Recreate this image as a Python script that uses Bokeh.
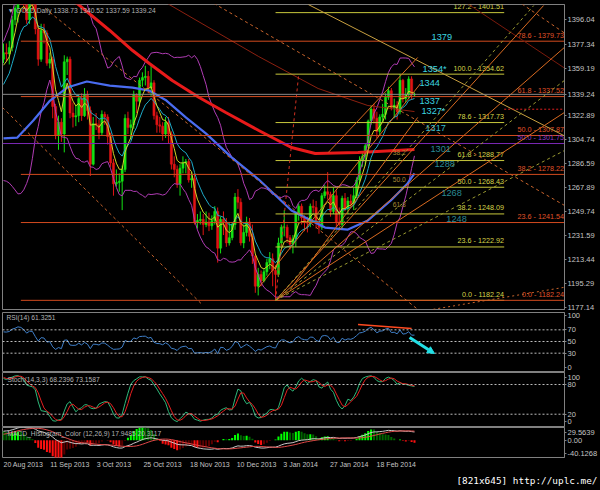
import numpy as np
import pandas as pd
from bokeh.plotting import figure
from bokeh.layouts import column
from bokeh.models import (Range1d, FixedTicker, Span, Arrow, NormalHead,
                          ColumnDataSource, GlobalInlineStyleSheet)
from bokeh.core.properties import value
from bokeh.embed import file_html
from bokeh.resources import INLINE

# ------------------------------------------------------------------ data
date_labels = ["20 Aug 2013", "11 Sep 2013", "3 Oct 2013", "25 Oct 2013", "18 Nov 2013",
               "10 Dec 2013", "3 Jan 2014", "27 Jan 2014", "18 Feb 2014"]
date_label_bars = [0, 16, 32, 48, 64, 80, 96, 112, 128]

# bars before the first visible one (only used to seed the indicators)
warm_close = [1251, 1223, 1235, 1246, 1262, 1283, 1278, 1283, 1291, 1277, 1283, 1295, 1335, 1346, 1318,
              1334, 1322, 1328, 1324, 1313, 1311, 1310, 1302, 1282, 1285, 1311, 1313, 1334, 1320, 1335,
              1373, 1377, 1366]
warm_high = [1256, 1262, 1240, 1253, 1267, 1292, 1287, 1297, 1294, 1292, 1294, 1299, 1338, 1349, 1348,
             1336, 1336, 1333, 1332, 1330, 1330, 1318, 1316, 1303, 1294, 1313, 1322, 1338, 1340, 1338,
             1375, 1380, 1375]
warm_low = [1236, 1211, 1207, 1231, 1239, 1255, 1271, 1270, 1278, 1275, 1270, 1277, 1292, 1330, 1313,
            1313, 1316, 1315, 1316, 1300, 1300, 1288, 1299, 1275, 1270, 1282, 1305, 1310, 1315, 1316,
            1333, 1365, 1362]

close = [1371, 1370, 1375, 1396, 1405, 1420, 1418, 1410, 1396, 1412,
         1411, 1389, 1366, 1388, 1386, 1363, 1366, 1330, 1308, 1318,
         1309, 1364, 1366, 1325, 1322, 1323, 1336, 1323, 1339, 1327,
         1286, 1317, 1316, 1310, 1324, 1322, 1307, 1287, 1271, 1272,
         1273, 1282, 1321, 1314, 1316, 1339, 1334, 1350, 1352, 1353,
         1344, 1348, 1323, 1316, 1315, 1309, 1318, 1309, 1286, 1282,
         1271, 1283, 1287, 1288, 1274, 1275, 1242, 1243, 1244, 1240,
         1242, 1239, 1243, 1250, 1222, 1244, 1242, 1226, 1230, 1240,
         1261, 1257, 1226, 1234, 1242, 1231, 1216, 1193, 1202, 1197,
         1204, 1211, 1214, 1205, 1202, 1226, 1238, 1238, 1230, 1225,
         1229, 1248, 1254, 1245, 1242, 1241, 1254, 1253, 1242, 1238,
         1262, 1265, 1263, 1250, 1262, 1242, 1240, 1260, 1252, 1258,
         1256, 1262, 1274, 1289, 1292, 1300, 1319, 1328, 1321, 1311,
         1322, 1324, 1337, 1342, 1329, 1331, 1326, 1350, 1336, 1339,
         1351, 1338.73, 1339.24]
high = [1378, 1378, 1380, 1399, 1407, 1424, 1434, 1420, 1412, 1415,
        1420, 1414, 1392, 1393, 1393, 1388, 1371, 1368, 1332, 1323,
        1321, 1369, 1368, 1368, 1333, 1331, 1339, 1340, 1344, 1342,
        1330, 1322, 1325, 1320, 1327, 1326, 1324, 1310, 1290, 1282,
        1279, 1285, 1324, 1326, 1320, 1342, 1340, 1352, 1356, 1361,
        1357, 1361, 1350, 1326, 1322, 1318, 1322, 1322, 1311, 1292,
        1285, 1286, 1292, 1290, 1290, 1280, 1279, 1248, 1250, 1248,
        1250, 1249, 1247, 1254, 1253, 1246, 1250, 1245, 1242, 1242,
        1264, 1267, 1260, 1240, 1246, 1245, 1240, 1217, 1207, 1205,
        1206, 1214, 1219, 1218, 1209, 1230, 1240, 1251, 1240, 1232,
        1232, 1250, 1256, 1256, 1247, 1246, 1256, 1259, 1258, 1244,
        1264, 1270, 1280, 1265, 1268, 1266, 1253, 1262, 1264, 1261,
        1263, 1268, 1276, 1292, 1296, 1302, 1320, 1331, 1332, 1326,
        1324, 1332, 1340, 1345, 1344, 1336, 1334, 1354.62, 1351, 1344,
        1353, 1353, 1340.52]
low = [1363, 1364, 1362, 1372, 1392, 1394, 1410, 1402, 1393, 1393,
       1403, 1385, 1361, 1364, 1378, 1361, 1359, 1321, 1305, 1297,
       1303, 1295, 1354, 1321, 1314, 1315, 1318, 1319, 1322, 1320,
       1277, 1285, 1312, 1305, 1308, 1316, 1301, 1284, 1262, 1269,
       1265, 1251, 1280, 1309, 1305, 1313, 1325, 1330, 1345, 1346,
       1340, 1338, 1320, 1310, 1310, 1304, 1306, 1302, 1282, 1276,
       1268, 1262, 1279, 1279, 1272, 1268, 1240, 1237, 1240, 1232,
       1238, 1235, 1236, 1240, 1211, 1218, 1232, 1223, 1224, 1228,
       1236, 1252, 1224, 1222, 1231, 1227, 1210, 1188, 1186, 1193,
       1196, 1201, 1206, 1193, 1182.24, 1200, 1222, 1231, 1226, 1221,
       1218, 1223, 1243, 1240, 1235, 1234, 1238, 1249, 1237, 1233,
       1236, 1260, 1259, 1246, 1248, 1238, 1239, 1236, 1250, 1248,
       1253, 1251, 1260, 1271, 1284, 1285, 1298, 1316, 1317, 1306,
       1308, 1318, 1320, 1335, 1327, 1321, 1320, 1324, 1333, 1333,
       1336, 1335, 1337.59]

header_text = "\u25bc GOLD,Daily  1338.73 1340.52 1337.59 1339.24"
last_price = 1339.24
price_ticks = [1396.04, 1377.34, 1359.19, 1339.24, 1322.89, 1304.74, 1286.59, 1267.89,
               1249.74, 1231.59, 1213.44, 1195.29, 1177.14]

# long moving averages (bar index, price)
ma200_bar = [20, 25.4, 36.7, 44.6, 50.4, 58.3, 67.6, 76.8, 88.2, 99.5, 107.7, 122.5, 142]
ma200_val = [1413, 1408.5, 1387.9, 1372.6, 1362.7, 1349.8, 1336.8, 1325.4, 1311.7, 1298.7,
             1294.2, 1294.9, 1297.2]
ma50_bar = [0, 4.8, 10.3, 16.1, 22, 28.8, 36.7, 44.6, 50.4, 56.3, 63.1, 70, 78.9, 88.2,
            99.5, 111.1, 119, 125.9, 133.8, 139.6, 142]
ma50_val = [1305.6, 1306.3, 1319.3, 1334.5, 1344.4, 1349.0, 1345.9, 1344.4, 1342.1, 1334.5,
            1321.5, 1309.3, 1291.0, 1274.3, 1250.7, 1237.7, 1236.2, 1243.1, 1258.3, 1271.3, 1279]
ma100_bar = [50, 56.6, 88.2, 108.7, 125.9, 142]
ma100_val = [1414, 1408.5, 1368, 1343.7, 1330.7, 1326.1]

# Fibonacci objects
fib_ratios = [0.0, 23.6, 38.2, 50.0, 61.8, 78.6, 100.0, 127.2]
fibA_low, fibA_high, fibA_bar0, fibA_bar1, fibA_end = 1182.24, 1354.62, 94, 102, 173
fibB_ratios = [0.0, 23.6, 38.2, 50.0, 61.8, 78.6]
fibB_low, fibB_high, fibB_bar0 = 1182.24, 1433.50, 6
fibC_level, fibC_ratio = 1301.75, 50.0

# hand-drawn support / resistance notes
note_text = ["1379", "1354*", "1344", "1337", "1327*", "1317", "1301", "1288", "1268", "1248"]
note_bar = [147.9, 144.8, 143.7, 143.7, 144.4, 145.8, 147.5, 148.9, 151.3, 153.0]
note_price = [1383.3, 1358.9, 1348.2, 1334.5, 1326.8, 1313.9, 1297.9, 1285.8, 1264.4, 1244.6]
note_color = ["#3cd6e0"] * 5 + ["#34bccc"] + ["#2a8a94"] * 4
fan_text = ["38.2", "50.0", "61.8"]
fan_bar = [134.5, 134.5, 134.5]
fan_price = [1294.9, 1274.3, 1255.3]

# trend lines: (bar0, price0, bar1, price1, colour, dash, width)
trend_lines = [
    (105.3, 1407.7, 193.8, 1307.6, "#c8a040", "solid", 1),
    (160.2, 1408.5, 193.8, 1359.3, "#7a1a0c", "solid", 1),
    (-0.4, 1329.3, 68.6, 1179.1, "#c8642c", "3 3", 1),
    (14.4, 1404.6, 143.2, 1175.2, "#c8642c", "3 3", 1),
    (72.7, 1408.5, 193.8, 1254.6, "#c8642c", "3 3", 1),
    (177.4, 1410.7, 193.8, 1386.0, "#c8642c", "3 3", 1),
    (148.5, 1175.4, 193.8, 1192.2, "#c8642c", "2 3", 1),
    (94, 1182.24, 102, 1354.62, "#d03020", "3 3", 1),
    (94, 1182.24, 186.6, 1406.9, "#d86a20", "solid", 1),
    (94, 1182.24, 193.8, 1375.0, "#d86a20", "solid", 1),
    (94, 1182.24, 193.8, 1325.4, "#d86a20", "solid", 1),
    (94, 1182.24, 183.2, 1406.9, "#9a9a30", "3 3", 1),
    (94, 1182.24, 193.8, 1349.8, "#9a9a30", "3 3", 1),
    (94, 1182.24, 193.8, 1296.4, "#9a9a30", "3 3", 1),
    (88.2, 1192.0, 144.1, 1347.5, "#d86a20", "solid", 1),
    (99.5, 1192.0, 143.1, 1321.6, "#d86a20", "solid", 1),
    (112.2, 1294.9, 143.1, 1367.3, "#d86a20", "solid", 1),
    (173, 1327.9, 193.8, 1327.9, "#e02020", "2 2", 1),
]
rsi_trend = (122.5, 79.1, 141.0, 72.3)
rsi_arrow = (140.3, 56.9, 148.9, 29.5)

rsi_title = "RSI(14) 61.3251"
sto_title = "Stoch(14,3,3) 68.2396 73.1587"
macd_title = "MACD_Histogram_Color (12,26,9) 17.9485 20.3117"
macd_top, macd_bot = 29.5639, -40.1268
watermark = "[821x645] http://uplc.me/"

# ------------------------------------------------------------------ indicators
nw = len(warm_close)
C = np.array(warm_close + close, float)
H = np.array(warm_high + high, float)
L = np.array(warm_low + low, float)
Cs = pd.Series(C)


def ema(x, n):
    a = 2.0 / (n + 1)
    out = np.empty(len(x))
    out[0] = x[0]
    for i in range(1, len(x)):
        out[i] = a * x[i] + (1 - a) * out[i - 1]
    return out


ema_fast = ema(C, 5)
ema_mid = ema(C, 10)
bb_mid = Cs.rolling(20).mean()
bb_sd = Cs.rolling(20).std(ddof=0)
bb_up = (bb_mid + 2 * bb_sd).values
bb_dn = (bb_mid - 2 * bb_sd).values

d = np.diff(C, prepend=C[0])
gain = np.clip(d, 0, None)
loss = np.clip(-d, 0, None)
ag = np.full(len(C), np.nan)
al = np.full(len(C), np.nan)
ag[14] = gain[1:15].mean()
al[14] = loss[1:15].mean()
for i in range(15, len(C)):
    ag[i] = (ag[i - 1] * 13 + gain[i]) / 14
    al[i] = (al[i - 1] * 13 + loss[i]) / 14
rsi = 100 - 100 / (1 + ag / al)

hh = pd.Series(H).rolling(14).max()
ll = pd.Series(L).rolling(14).min()
sto_k = (100 * (Cs - ll).rolling(3).sum() / (hh - ll).rolling(3).sum())
sto_d = sto_k.rolling(3).mean()

macd = ema(C, 12) - ema(C, 26)
macd_sig = pd.Series(macd).rolling(9).mean().values
hist = 3 * (macd - macd_sig)

n = len(close)
idx = np.arange(n)
o = np.r_[warm_close[-1], close[:-1]]
c = np.array(close, float)
GREEN, RED = "#14e214", "#e21414"
cols = [GREEN if cc >= oo else RED for oo, cc in zip(o, c)]

hv = hist[nw:]
hp = hist[nw - 1:-1]
hcols = []
for a, b in zip(hv, hp):
    if a >= 0:
        hcols.append("#00ff00" if a >= b else "#006400")
    else:
        hcols.append("#ff1010" if a < b else "#5a0000")

# ------------------------------------------------------------------ layout
W = 600
BL, BR = 2, 32
XR = Range1d(-0.343, 193.83)
FONT = "Liberation Sans"
AXC = "#c4c4c4"
GRID = "#808080"
FS = "7.5px"
TS = "6.7px"
FIBS = "7.2px"


def pane(h, y0, y1, bt, bb):
    f = figure(width=W, height=h, x_range=XR, y_range=Range1d(y0, y1), title=None,
               output_backend="svg", toolbar_location=None, x_axis_location=None,
               y_axis_location="right", min_border_left=BL, min_border_right=BR,
               min_border_top=bt, min_border_bottom=bb, background_fill_color="black",
               border_fill_color="black", outline_line_color=GRID)
    f.grid.visible = False
    ax = f.yaxis[0]
    ax.axis_line_color = GRID
    ax.major_tick_line_color = GRID
    ax.minor_tick_line_color = None
    ax.major_tick_out = 2
    ax.major_tick_in = 0
    ax.major_label_standoff = 1
    ax.major_label_text_font = FONT
    ax.major_label_text_font_size = FS
    ax.major_label_text_color = AXC
    return f


def txt(f, x, y, t, color, size=FS, align="left", base="middle", font=FONT):
    f.text(x=x, y=y, text=t, text_color=color, text_font=value(font), text_font_size=size,
           text_align=align, text_baseline=base)


# main pane ---------------------------------------------------------
PY0, PY1 = 1175.26, 1407.70
PSTEP = 0.7621
main = pane(311, PY0, PY1, 4, 2)
main.yaxis[0].ticker = FixedTicker(ticks=price_ticks)
main.yaxis[0].major_label_overrides = {v: "%.2f" % v for v in price_ticks}

src = ColumnDataSource(dict(i=idx, h=high, l=low, top=np.maximum(o, c), bot=np.minimum(o, c), col=cols))
main.segment(x0="i", y0="h", x1="i", y1="l", line_color="col", line_width=1, source=src)
main.vbar(x="i", top="top", bottom="bot", width=0.75, fill_color="col", line_color="col",
          line_width=0.5, source=src)

main.line(idx, bb_up[nw:], line_color="#b03cb4", line_width=1)
main.line(idx, bb_dn[nw:], line_color="#b03cb4", line_width=1)
main.line(ma100_bar, ma100_val, line_color="#8c2010", line_width=1)
main.line(ma200_bar, ma200_val, line_color="#e81a1a", line_width=3)
main.line(ma50_bar, ma50_val, line_color="#4a6cf0", line_width=2.2)
main.line(idx, ema_mid[nw:], line_color="#1eaac8", line_width=1)
main.line(idx, ema_fast[nw:], line_color="#d2d228", line_width=1)

# fibonacci A (yellow)
fa = [fibA_low + r / 100.0 * (fibA_high - fibA_low) for r in fib_ratios]
main.segment(x0=[fibA_bar0] * len(fa), y0=fa, x1=[fibA_end] * len(fa), y1=fa,
             line_color="#c8c83c", line_width=1)
txt(main, [fibA_end - 0.1] * len(fa), [v + 1.2 for v in fa],
    ["%.1f - %.2f" % (r, v) for r, v in zip(fib_ratios, fa)], "#d6d64a", size=FIBS,
    align="right", base="bottom")
# fibonacci B (orange-red)
fb = [fibB_low + r / 100.0 * (fibB_high - fibB_low) for r in fibB_ratios]
main.segment(x0=[fibB_bar0] * len(fb), y0=fb, x1=[XR.end] * len(fb), y1=fb,
             line_color="#d24a1e", line_width=1)
txt(main, [XR.end - 0.2] * len(fb), [v + 1.2 for v in fb],
    ["%.1f - %.2f" % (r, v) for r, v in zip(fibB_ratios, fb)], "#e0542a", size=FIBS,
    align="right", base="bottom")
# fibonacci C (purple)
main.segment(x0=[XR.start], y0=[fibC_level], x1=[XR.end], y1=[fibC_level],
             line_color="#7a28b4", line_width=1)
txt(main, [XR.end - 0.2], [fibC_level + 1.2], ["%.1f - %.2f" % (fibC_ratio, fibC_level)],
    "#8c3cc8", size=FIBS, align="right", base="bottom")

for (x0, y0, x1, y1, colr, dash, lw) in trend_lines:
    main.segment(x0=[x0], y0=[y0], x1=[x1], y1=[y1], line_color=colr, line_dash=dash,
                 line_width=lw)

main.add_layout(Span(location=last_price, dimension="width", line_color="#8a8a8a", line_width=1))

for t, xb, yp, colr in zip(note_text, note_bar, note_price, note_color):
    txt(main, [xb], [yp], [t], colr, size="9.2px")
txt(main, fan_bar, fan_price, fan_text, "#a88a34", size=TS)

txt(main, [1.37], [PY1 - 6 * PSTEP], [header_text], "#b4b4b4", size=TS)

# RSI pane ------------------------------------------------------------
R0, R1 = -1.4, 99.7
rp = pane(61, R0, R1, 1, 1)
rstep = (R1 - R0) / 59.0
r_top, r_bot = R1 - 3 * rstep, R1 - 54.7 * rstep
rp.yaxis[0].ticker = FixedTicker(ticks=[r_top, 70, 50, 30, r_bot])
rp.yaxis[0].major_label_overrides = {r_top: "100", 70: "70", 50: "50", 30: "30", r_bot: "0"}
for lv in (70, 50, 30):
    rp.add_layout(Span(location=lv, dimension="width", line_color="#bdbdbd", line_dash="2 2",
                       line_width=1))
rp.line(idx, rsi[nw:], line_color="#3f7fc8", line_width=1)
rp.segment(x0=[rsi_trend[0]], y0=[rsi_trend[1]], x1=[rsi_trend[2]], y1=[rsi_trend[3]],
           line_color="#ff4a20", line_width=1.5)
CY = "#22e0e6"
rp.add_layout(Arrow(end=NormalHead(size=7, fill_color=CY, line_color=CY),
                    x_start=rsi_arrow[0], y_start=rsi_arrow[1], x_end=rsi_arrow[2],
                    y_end=rsi_arrow[3], line_color=CY, line_width=3))
txt(rp, [1.03], [R1 - 5 * rstep], [rsi_title], "#b4b4b4", size=TS)

# Stochastic pane -------------------------------------------------------
S0, S1 = -4.8, 104.2
sp = pane(55, S0, S1, 0, 1)
sstep = (S1 - S0) / 54.0
s_top, s_bot = S1 - 4.7 * sstep, S1 - 48.7 * sstep
sp.yaxis[0].ticker = FixedTicker(ticks=[s_top, 80, 20, s_bot])
sp.yaxis[0].major_label_overrides = {s_top: "100", 80: "80", 20: "20", s_bot: "0"}
for lv in (80, 20):
    sp.add_layout(Span(location=lv, dimension="width", line_color="#bdbdbd", line_dash="2 2",
                       line_width=1))
sp.line(idx, sto_k.values[nw:], line_color="#2eb87a", line_width=1)
sp.line(idx, sto_d.values[nw:], line_color="#e62020", line_width=1)
txt(sp, [1.37], [S1 - 7 * sstep], [sto_title], "#b4b4b4", size=TS)

# MACD pane ------------------------------------------------------------
mp = pane(31, macd_bot, macd_top, 0, 1)
mstep = (macd_top - macd_bot) / 30.0
m_top, m_bot = macd_top - 4.7 * mstep, macd_bot + 4.3 * mstep
mp.yaxis[0].ticker = FixedTicker(ticks=[m_top, 0, m_bot])
mp.yaxis[0].major_label_overrides = {m_top: "%.4f" % macd_top, 0: "0.00", m_bot: "%.4f" % macd_bot}
mp.vbar(x=idx, top=hv, bottom=0, width=0.7, fill_color=hcols, line_color=None)
mp.line(idx, macd[nw:], line_color="#c8c8c8", line_width=1)
mp.line(idx, macd_sig[nw:], line_color="#e04848", line_width=1)
txt(mp, [1.37], [macd_top - 6 * mstep], [macd_title], "#b4b4b4", size=TS)

# date strip ------------------------------------------------------------
ds = figure(width=W, height=32, x_range=Range1d(-3 / 2.915, 597 / 2.915), y_range=Range1d(0, 32),
            title=None, output_backend="svg", toolbar_location=None, x_axis_location=None,
            y_axis_location=None, min_border=0, background_fill_color="black",
            border_fill_color="black", outline_line_color=None, frame_align=False)
ds.grid.visible = False
txt(ds, date_label_bars, [26] * len(date_labels), date_labels, AXC, size="7px")
txt(ds, [(597 - 3) / 2.915], [10], [watermark], "#ffffff", size="9.4px", align="right",
    font="DejaVu Sans Mono")

p = column(main, rp, sp, mp, ds, spacing=0,
           stylesheets=[GlobalInlineStyleSheet(css="body{background-color:#000000;}")])

open("out.html", "w").write(file_html(p, INLINE))
